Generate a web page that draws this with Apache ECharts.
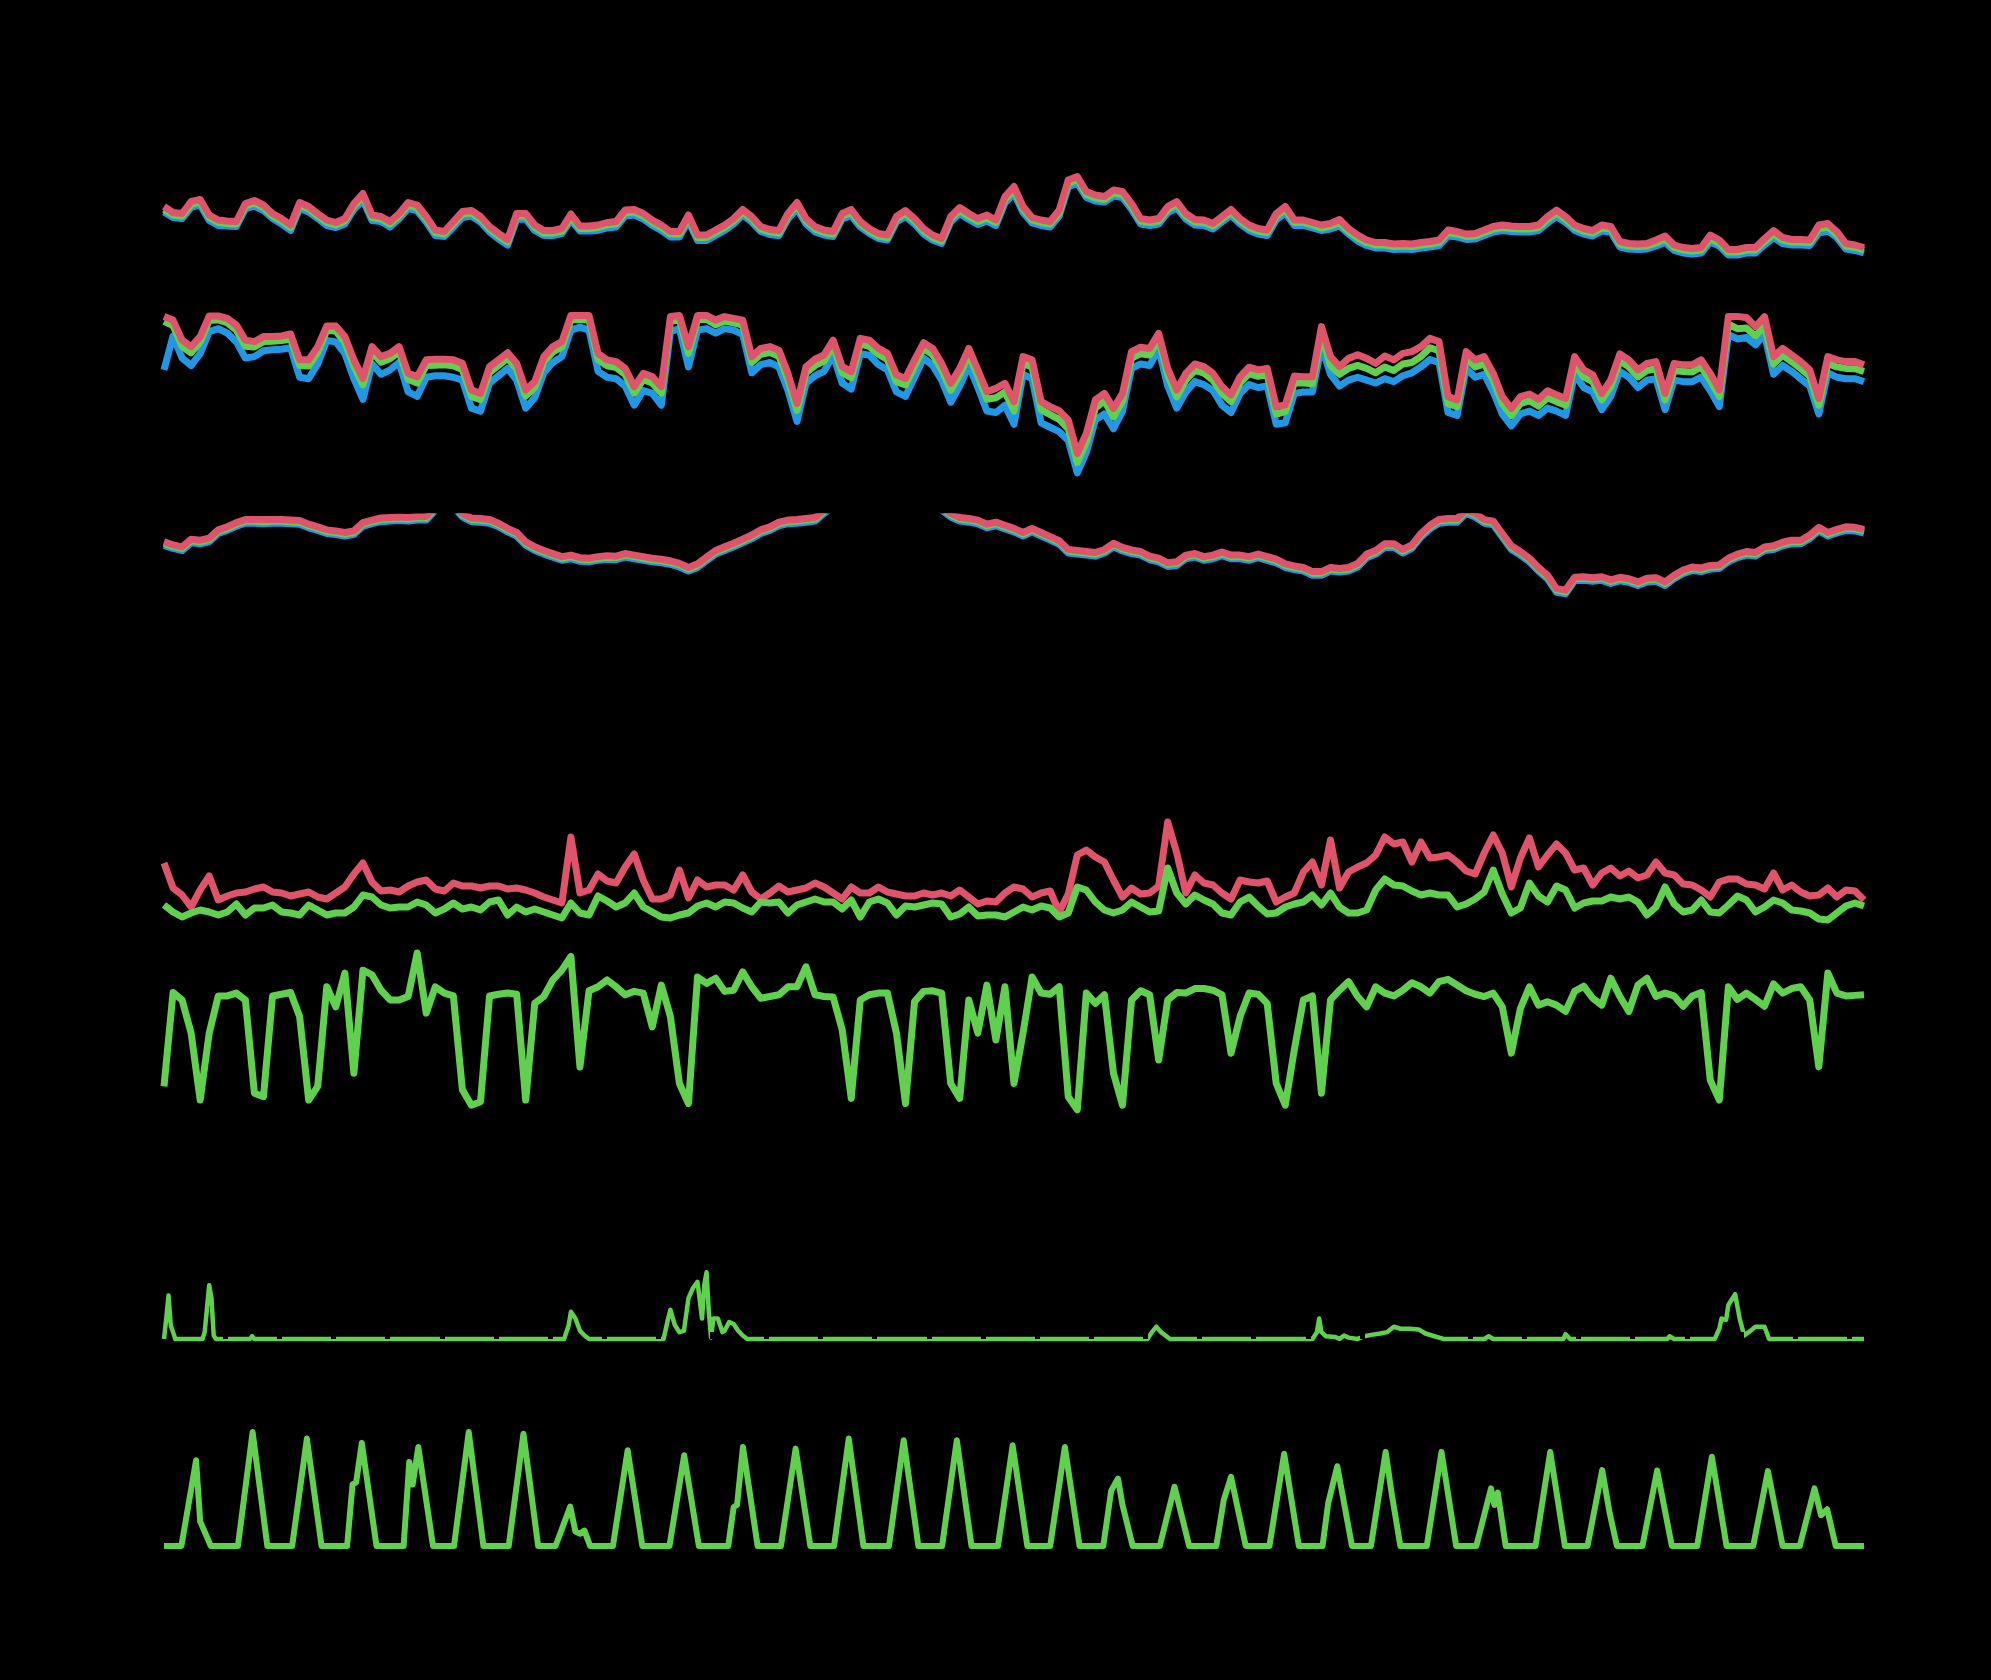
<!DOCTYPE html>
<html><head><meta charset="utf-8">
<script src="https://cdn.jsdelivr.net/npm/echarts@6/dist/echarts.min.js"></script>
<style>html,body{margin:0;padding:0;background:#000;}#c{width:1991px;height:1680px;}</style>
</head><body><div id="c"></div>
<script>
// time step (hours) between samples of the regular series
const STEP_H = 4;
const HOURS_MAX = 752;

// Panel 1: temperature (°C), three sensors
const tempRed = [10.9,9.7,9.5,11.9,12.3,9.2,8.2,8.0,7.9,11.5,12.1,11.2,9.5,8.5,7.2,11.7,10.9,9.5,8.2,7.7,8.5,11.5,13.5,9.2,8.9,7.9,9.5,11.7,11.2,8.9,6.2,5.9,7.9,9.9,10.1,8.9,6.9,5.5,4.3,9.5,9.5,7.2,6.1,6.1,6.5,9.4,7.0,7.0,7.2,7.7,7.9,10.2,10.3,9.5,8.2,7.2,5.9,5.9,9.2,5.2,5.2,6.2,7.2,
8.5,10.3,8.9,6.9,6.3,6.1,9.5,11.7,8.5,6.9,6.2,5.9,9.5,10.3,7.9,6.5,5.5,5.2,8.9,10.1,8.5,6.5,5.2,4.5,8.9,10.7,9.5,8.5,9.2,8.2,12.9,14.9,10.9,8.7,8.2,7.9,10.2,16.2,16.9,13.9,13.2,12.9,14.2,13.9,11.5,8.5,8.2,8.5,10.9,11.9,9.5,8.3,8.2,7.5,8.9,10.3,8.5,7.2,6.5,6.2,9.5,10.9,8.2,
8.2,7.7,7.2,7.5,8.3,6.5,5.2,4.2,3.7,3.7,3.4,3.5,3.4,3.7,3.9,4.2,6.2,5.9,5.4,5.5,6.2,6.9,7.2,7.0,6.9,6.9,7.2,8.9,10.2,8.9,7.2,6.5,6.1,7.2,6.9,3.9,3.5,3.4,3.5,4.2,5.0,3.2,2.7,2.5,2.7,5.2,4.2,2.3,2.3,2.7,2.7,4.5,6.1,4.7,4.3,4.3,4.2,7.2,7.5,5.9,3.5,3.2,2.7];
const tempGreen = [10.3,9.2,9.0,11.3,11.8,8.7,7.7,7.5,7.4,11.0,11.6,10.7,9.0,8.0,6.7,11.1,10.4,9.0,7.7,7.2,8.0,11.0,12.9,8.7,8.4,7.4,9.0,11.2,10.6,8.4,5.7,5.4,7.4,9.4,9.6,8.4,6.4,5.0,3.8,9.0,9.0,6.7,5.6,5.6,6.0,8.8,6.5,6.5,6.7,7.2,7.4,9.6,9.8,9.0,7.7,6.7,5.4,5.4,8.6,4.7,4.7,5.7,6.7,
8.0,9.8,8.4,6.4,5.8,5.6,9.0,11.1,8.0,6.4,5.7,5.4,9.0,9.7,7.4,6.0,5.0,4.7,8.4,9.5,8.0,6.0,4.7,4.0,8.4,10.1,8.9,7.9,8.6,7.7,12.3,14.2,10.3,8.2,7.7,7.4,9.6,15.5,16.3,13.3,12.6,12.3,13.6,13.3,10.9,8.0,7.7,8.0,10.3,11.3,9.0,7.8,7.7,7.0,8.4,9.7,8.0,6.7,6.0,5.7,8.9,10.3,7.7,
7.7,7.2,6.6,7.0,7.6,5.9,4.6,3.7,3.2,3.2,2.9,3.0,2.9,3.2,3.4,3.7,5.7,5.4,4.9,5.0,5.7,6.4,6.7,6.5,6.4,6.4,6.7,8.3,9.6,8.3,6.7,6.0,5.6,6.6,6.4,3.4,3.0,2.9,3.0,3.6,4.4,2.7,2.2,2.0,2.2,4.5,3.6,1.8,1.8,2.2,2.2,3.9,5.4,4.2,3.8,3.8,3.7,6.5,6.8,5.3,3.0,2.7,2.2];
const tempBlue = [9.8,8.7,8.5,10.7,11.2,8.1,7.1,7.0,6.9,10.4,11.0,10.1,8.5,7.4,6.1,10.5,9.8,8.5,7.1,6.7,7.4,10.3,12.2,8.1,7.9,6.8,8.4,10.5,10.0,7.8,5.1,4.9,6.8,8.7,9.0,7.8,5.8,4.4,3.2,8.3,8.4,6.1,5.1,5.1,5.5,8.2,6.0,6.0,6.1,6.6,6.8,9.0,9.2,8.4,7.1,6.1,4.8,4.8,8.0,4.1,4.1,5.1,6.1,
7.4,9.2,7.8,5.9,5.3,5.1,8.4,10.4,7.4,5.8,5.2,4.9,8.4,9.1,6.8,5.5,4.5,4.2,7.8,8.9,7.4,5.4,4.2,3.5,7.8,9.5,8.3,7.3,8.0,7.1,11.6,13.5,9.7,7.6,7.1,6.8,9.0,14.8,15.6,12.7,12.0,11.8,13.0,12.7,10.3,7.4,7.1,7.4,9.7,10.6,8.4,7.2,7.1,6.4,7.8,9.1,7.4,6.1,5.4,5.1,8.2,9.6,7.1,
7.1,6.6,6.1,6.4,7.0,5.4,4.0,3.1,2.6,2.6,2.3,2.4,2.3,2.6,2.8,3.1,5.0,4.8,4.3,4.4,5.1,5.8,6.1,5.9,5.8,5.8,6.1,7.6,8.9,7.7,6.1,5.4,5.0,6.0,5.8,2.8,2.4,2.3,2.4,3.0,3.7,2.1,1.6,1.4,1.6,3.8,3.0,1.2,1.2,1.6,1.6,3.2,4.7,3.5,3.2,3.2,3.1,5.6,6.0,4.7,2.4,2.1,1.6];

// Panel 2: relative humidity (%)
const humRed = [98.1,96.9,90.1,87.9,91.3,98.3,98.3,97.5,95.2,90.1,89.6,91.3,91.3,91.5,92.2,83.4,83.4,87.9,94.9,94.9,91.3,83.4,77.1,87.9,84.5,85.6,87.9,78.8,77.7,83.4,83.6,83.6,83.4,82.2,73.2,72.0,81.1,83.4,85.8,82.2,73.2,76.0,84.5,87.9,89.6,98.5,98.5,98.5,85.6,83.4,82.8,80.5,74.3,78.8,77.7,74.3,98.1,98.5,87.9,98.5,98.5,96.9,98.1,
97.5,96.9,84.5,87.3,87.9,86.7,78.8,68.6,81.1,83.6,85.1,90.1,81.1,79.4,90.7,90.1,87.3,85.6,78.3,77.1,83.4,89.2,87.3,82.2,75.4,80.5,87.3,80.0,72.6,73.7,75.4,69.2,84.5,83.4,69.2,67.5,66.1,63.0,51.6,58.4,69.8,72.0,66.9,72.0,86.2,87.7,87.3,92.4,80.5,73.2,78.8,82.0,81.1,78.8,74.3,71.5,77.7,80.9,80.0,80.5,67.5,68.1,77.9,
77.7,77.7,94.7,84.5,81.1,83.9,85.1,83.9,82.2,84.7,83.4,85.6,86.2,87.9,90.7,89.6,70.9,69.8,86.2,83.4,84.5,78.8,70.9,66.9,70.9,71.8,70.0,72.9,71.5,70.3,84.5,80.0,78.3,72.0,76.6,85.4,83.4,80.0,82.2,82.8,72.0,82.2,81.7,81.7,83.4,78.8,73.2,98.1,98.1,97.8,94.7,98.1,84.5,87.3,85.1,82.8,80.0,70.3,84.5,83.4,82.8,82.8,81.7];
const humGreen = [96.5,95.0,88.0,85.8,89.5,96.8,97.0,96.0,93.5,88.0,87.8,89.6,89.7,90.0,90.5,81.5,81.3,86.0,93.4,93.2,89.3,81.2,74.9,86.0,82.6,83.8,86.1,76.8,75.5,81.5,81.6,81.7,81.4,80.1,71.0,69.9,79.1,81.5,84.0,80.2,71.1,74.0,82.6,86.1,87.8,97.0,97.1,97.0,83.5,81.4,80.8,78.4,72.1,76.7,75.5,72.1,96.5,97.0,85.6,97.0,97.2,95.3,96.6,
96.0,95.2,82.5,85.3,85.9,84.6,76.6,66.2,79.0,81.5,83.0,88.2,79.0,77.3,88.8,88.0,85.3,83.5,76.0,74.9,81.2,87.2,85.2,80.0,73.0,78.3,85.2,77.8,70.0,70.5,72.5,66.0,82.2,81.0,66.5,64.8,63.2,60.0,48.5,55.5,67.0,69.5,64.0,69.5,84.0,85.5,85.0,90.5,78.2,70.8,76.5,79.8,78.9,76.5,72.0,69.2,75.5,78.7,77.8,78.3,65.0,65.8,75.6,
75.5,75.3,92.0,81.5,78.5,80.5,81.5,80.5,79.0,81.0,79.8,82.0,82.5,84.5,87.5,86.5,68.5,67.5,83.8,81.0,82.0,76.5,68.5,64.5,68.5,69.5,67.7,70.5,69.2,68.0,82.0,77.6,76.0,69.8,74.3,83.0,81.0,77.6,79.8,80.4,69.8,79.8,79.4,79.3,81.0,76.4,71.0,95.5,94.0,94.2,91.5,95.0,82.0,85.0,82.8,80.5,77.8,68.0,82.2,81.0,80.5,80.4,79.5];
const humBlue = [80.0,91.5,84.0,81.5,85.5,93.0,94.0,92.5,89.5,84.0,84.5,86.5,86.8,87.0,87.5,77.5,77.0,82.0,90.0,89.5,85.5,77.0,70.0,82.0,78.5,80.0,82.5,72.5,71.0,77.5,78.0,78.0,77.5,76.5,67.0,66.0,75.5,78.0,80.5,76.5,67.0,70.5,79.0,82.5,84.5,93.5,94.5,93.5,79.5,77.5,77.0,74.5,68.0,73.0,72.0,68.0,93.0,94.0,81.0,93.5,94.0,92.5,94.0,
93.5,92.0,79.0,81.8,82.5,81.0,73.0,62.5,75.5,78.0,79.5,85.0,75.5,73.5,85.5,85.0,81.8,80.0,72.5,71.0,77.5,84.0,81.5,76.5,69.0,74.5,81.5,74.0,66.0,65.5,68.0,61.5,78.5,77.0,62.0,60.5,59.0,56.0,45.0,52.0,63.0,65.0,60.0,66.0,80.5,82.0,81.5,87.0,74.5,67.0,72.5,76.0,75.0,73.0,68.0,65.5,72.0,75.0,74.0,74.5,61.5,62.0,72.0,
72.5,72.5,88.0,78.5,74.5,76.5,77.5,76.5,75.5,77.0,76.0,78.0,79.0,81.0,83.5,82.5,65.5,64.5,80.5,77.5,78.5,72.5,65.0,61.0,65.0,66.0,64.5,67.0,66.0,64.5,78.5,74.0,72.5,66.5,71.0,79.5,77.5,74.0,76.5,77.0,66.5,76.5,76.0,76.0,77.5,73.0,67.5,92.0,90.5,91.0,88.5,92.0,78.5,81.5,79.5,77.0,74.5,65.0,79.0,77.5,77.0,77.0,76.0];

// Panel 3: air pressure (hPa)
const presRed = [1025.2,1024.6,1024.2,1025.7,1025.5,1025.9,1027.5,1028.1,1028.9,1029.5,1029.5,1029.5,1029.5,1029.5,1029.4,1029.3,1028.6,1028.1,1027.5,1027.3,1027.0,1027.3,1028.9,1029.4,1029.8,1029.9,1030.0,1029.9,1030.1,1030.1,1032.0,1033.3,1032.7,1030.7,1029.8,1029.7,1029.5,1028.8,1027.8,1027.0,1025.2,1024.2,1023.5,1022.9,1022.3,1022.6,1022.1,1022.0,1022.3,1022.5,1022.4,1022.9,1022.6,1022.3,1022.0,1021.8,1021.5,1021.0,1020.2,1020.9,1022.2,1023.5,1024.2,
1024.9,1025.7,1026.5,1027.5,1028.1,1029.0,1029.4,1029.5,1029.7,1029.9,1031.4,1032.7,1033.9,1034.6,1035.2,1035.6,1035.6,1035.2,1034.9,1034.6,1034.3,1033.9,1033.3,1032.0,1030.7,1029.9,1029.7,1029.4,1028.6,1029.0,1028.4,1027.8,1027.0,1027.8,1027.0,1026.2,1025.4,1023.7,1023.5,1023.3,1023.1,1023.7,1024.9,1024.1,1023.6,1023.3,1022.4,1022.0,1021.1,1021.3,1022.6,1022.9,1022.3,1022.6,1023.2,1022.6,1022.6,1022.3,1022.8,1022.3,1021.8,1020.9,1020.5,
1020.2,1019.4,1019.4,1020.2,1020.0,1020.2,1021.0,1022.8,1023.5,1024.8,1024.8,1023.7,1024.6,1026.8,1028.4,1029.5,1029.7,1029.7,1031.4,1030.7,1029.5,1029.2,1026.8,1024.4,1023.3,1022.0,1020.2,1018.7,1016.1,1015.8,1018.3,1018.4,1018.2,1018.4,1017.8,1018.3,1018.0,1017.4,1018.1,1018.2,1017.4,1018.7,1019.7,1020.3,1020.1,1020.6,1020.7,1022.0,1022.8,1023.3,1023.1,1024.2,1024.4,1025.1,1025.5,1025.5,1026.5,1028.0,1027.0,1027.6,1028.1,1028.0,1027.6];
const presGreen = [1024.9,1024.3,1023.9,1025.4,1025.2,1025.6,1027.2,1027.8,1028.6,1029.2,1029.2,1029.1,1029.2,1029.2,1029.1,1029.0,1028.3,1027.8,1027.2,1027.0,1026.7,1027.0,1028.6,1029.1,1029.5,1029.6,1029.7,1029.6,1029.8,1029.8,1031.7,1033.0,1032.4,1030.4,1029.5,1029.4,1029.2,1028.5,1027.5,1026.7,1024.9,1023.9,1023.2,1022.6,1022.0,1022.3,1021.8,1021.7,1022.0,1022.2,1022.1,1022.6,1022.3,1022.0,1021.7,1021.5,1021.2,1020.7,1019.9,1020.6,1021.9,1023.2,1023.9,
1024.6,1025.4,1026.2,1027.2,1027.8,1028.7,1029.1,1029.2,1029.4,1029.6,1031.1,1032.4,1033.6,1034.3,1034.9,1035.3,1035.3,1034.9,1034.6,1034.3,1034.0,1033.6,1033.0,1031.7,1030.4,1029.6,1029.4,1029.1,1028.3,1028.7,1028.1,1027.5,1026.7,1027.5,1026.7,1025.9,1025.1,1023.4,1023.2,1023.0,1022.8,1023.4,1024.6,1023.8,1023.3,1023.0,1022.1,1021.7,1020.8,1021.0,1022.3,1022.6,1022.0,1022.3,1022.9,1022.3,1022.3,1022.0,1022.5,1022.0,1021.5,1020.6,1020.2,
1019.9,1019.1,1019.1,1019.9,1019.7,1019.9,1020.7,1022.5,1023.2,1024.5,1024.5,1023.4,1024.3,1026.5,1028.1,1029.2,1029.4,1029.4,1031.1,1030.4,1029.2,1028.9,1026.5,1024.1,1023.0,1021.7,1019.9,1018.4,1015.8,1015.5,1018.0,1018.1,1017.9,1018.1,1017.5,1018.0,1017.7,1017.1,1017.8,1017.9,1017.1,1018.4,1019.4,1020.0,1019.8,1020.3,1020.4,1021.7,1022.5,1023.0,1022.8,1023.9,1024.1,1024.8,1025.2,1025.2,1026.2,1027.7,1026.7,1027.3,1027.8,1027.7,1027.3];
const presBlue = [1024.5,1023.9,1023.5,1025.0,1024.8,1025.2,1026.8,1027.4,1028.2,1028.8,1028.8,1028.7,1028.8,1028.8,1028.7,1028.6,1027.9,1027.4,1026.8,1026.6,1026.3,1026.6,1028.2,1028.7,1029.1,1029.2,1029.3,1029.2,1029.4,1029.4,1031.3,1032.6,1032.0,1030.0,1029.1,1029.0,1028.8,1028.1,1027.1,1026.3,1024.5,1023.5,1022.8,1022.2,1021.6,1021.9,1021.4,1021.3,1021.6,1021.8,1021.7,1022.2,1021.9,1021.6,1021.3,1021.1,1020.8,1020.3,1019.5,1020.2,1021.5,1022.8,1023.5,
1024.2,1025.0,1025.8,1026.8,1027.4,1028.3,1028.7,1028.8,1029.0,1029.2,1030.7,1032.0,1033.2,1033.9,1034.5,1034.9,1034.9,1034.5,1034.2,1033.9,1033.6,1033.2,1032.6,1031.3,1030.0,1029.2,1029.0,1028.7,1027.9,1028.3,1027.7,1027.1,1026.3,1027.1,1026.3,1025.5,1024.7,1023.0,1022.8,1022.6,1022.4,1023.0,1024.2,1023.4,1022.9,1022.6,1021.7,1021.3,1020.4,1020.6,1021.9,1022.2,1021.6,1021.9,1022.5,1021.9,1021.9,1021.6,1022.1,1021.6,1021.1,1020.2,1019.8,
1019.5,1018.7,1018.7,1019.5,1019.3,1019.5,1020.3,1022.1,1022.8,1024.1,1024.1,1023.0,1023.9,1026.1,1027.7,1028.8,1029.0,1029.0,1030.7,1030.0,1028.8,1028.5,1026.1,1023.7,1022.6,1021.3,1019.5,1018.0,1015.4,1015.1,1017.6,1017.7,1017.5,1017.7,1017.1,1017.6,1017.3,1016.7,1017.4,1017.5,1016.7,1018.0,1019.0,1019.6,1019.4,1019.9,1020.0,1021.3,1022.1,1022.6,1022.4,1023.5,1023.7,1024.4,1024.8,1024.8,1025.8,1027.3,1026.3,1026.9,1027.4,1027.3,1026.9];

// Panel 4: wind gust (red) and wind speed (green), m/s
const windGust = [6.6,4.1,3.4,2.2,3.9,5.3,2.9,3.3,3.6,3.7,4.0,4.2,3.7,3.6,3.3,3.5,3.7,3.2,3.0,3.6,4.2,5.5,6.6,4.7,3.8,3.9,3.7,4.3,4.7,4.9,4.0,3.8,4.6,4.3,4.3,4.1,4.3,4.3,4.0,4.1,3.9,3.6,3.2,2.9,2.6,9.2,3.6,3.9,5.5,4.8,4.6,6.2,7.5,4.9,3.0,3.0,3.4,5.9,3.1,4.9,4.2,4.4,4.4,
3.9,5.4,3.7,3.0,3.6,4.3,3.7,3.9,4.1,4.6,4.2,3.6,3.0,4.2,3.6,3.6,4.2,3.7,3.5,3.3,3.3,3.6,3.4,3.6,3.3,3.9,3.2,2.5,2.8,2.7,3.6,4.2,4.0,3.2,3.6,3.8,1.7,3.5,7.4,7.9,7.2,6.7,4.9,3.2,4.1,3.5,3.6,4.3,10.7,7.6,3.6,5.4,4.6,4.4,3.6,3.0,4.9,4.7,4.6,4.8,2.7,3.2,3.6,
5.7,6.7,4.4,8.9,4.1,5.7,6.2,6.6,7.4,9.2,8.5,8.7,6.7,8.7,7.1,7.2,7.4,6.7,5.8,5.5,7.6,9.4,7.6,4.2,7.1,9.1,6.2,7.4,8.5,7.6,5.9,6.1,4.4,5.6,6.1,5.3,5.8,5.1,5.4,6.7,5.6,5.4,4.5,4.4,3.9,3.2,4.7,5.0,5.0,4.5,4.4,4.0,5.6,3.9,4.4,3.7,3.3,3.4,4.1,3.2,3.9,3.8,2.9];
const windSpeed = [2.4,1.7,1.2,1.6,1.9,1.7,1.4,1.7,2.5,1.4,2.1,2.1,2.4,1.7,1.6,1.4,2.4,1.9,1.4,1.6,1.6,2.2,3.4,3.2,2.4,2.1,2.2,2.2,2.7,2.4,1.6,2.0,2.6,2.0,2.2,1.9,2.7,2.9,1.4,2.2,1.7,2.0,1.7,1.4,1.1,2.6,1.6,1.4,3.3,2.8,2.2,2.6,3.6,2.2,1.7,1.2,1.1,1.4,1.6,2.3,2.6,2.2,2.7,
2.6,2.1,1.7,2.7,2.6,2.7,1.6,2.4,2.7,3.0,2.7,2.7,2.0,2.9,1.2,2.7,3.0,2.6,1.4,2.3,2.2,2.4,2.6,2.5,1.2,1.5,2.2,1.3,1.4,1.4,1.2,1.7,2.2,1.9,2.3,2.1,1.2,1.6,4.2,3.9,2.7,1.9,1.6,1.9,2.7,2.2,1.7,1.8,6.1,3.6,2.5,3.4,2.9,2.5,1.6,1.4,2.7,3.2,2.3,1.5,1.6,2.2,2.5,
2.7,3.4,2.4,3.6,2.2,1.6,1.6,1.9,3.9,5.0,4.4,4.3,3.8,3.4,3.6,3.4,3.4,2.2,2.5,3.0,3.7,5.9,3.5,1.6,2.1,4.6,3.3,2.7,4.3,3.9,2.1,2.6,2.8,2.8,3.2,3.0,3.2,2.7,1.4,2.2,4.2,2.5,1.7,1.9,2.9,1.7,1.6,2.4,3.3,2.9,1.7,2.2,2.9,2.6,1.9,1.8,1.6,1.0,0.9,1.6,2.3,2.6,2.3];

// Panel 5: wind direction (degrees)
const windDir = [85,249,236,178,61,178,243,243,248,236,73,67,243,246,249,207,61,85,259,224,283,108,288,280,253,236,236,242,318,213,259,248,243,79,52,58,243,246,248,246,61,230,242,271,288,312,119,252,259,271,259,245,251,248,189,262,207,90,55,276,265,274,251,
253,285,259,239,242,245,259,259,294,245,242,241,184,64,236,245,248,248,178,55,233,251,252,248,90,64,236,178,262,166,259,90,178,276,248,246,259,67,44,248,230,245,108,52,236,252,245,131,236,249,248,256,256,253,245,143,207,248,246,230,90,52,149,
236,243,73,236,253,268,242,224,259,248,243,253,266,259,248,268,272,262,252,246,242,248,224,143,221,259,227,233,227,216,251,260,239,227,274,242,216,262,274,242,248,243,225,243,249,96,61,259,237,248,237,225,264,248,256,259,236,119,283,248,243,244,245];

// Panel 6: precipitation (mm), [hour, value]
const precip = [[0,0],[1,0.3],[2,0.64],[3,0.2],[4,0.1],[5,0],[17,0],[18,0.1],[19,0.45],[20,0.79],[21,0.6],[22,0.05],[23,0],[38,0],[39,0.04],[40,0],
[177,0],[179,0.2],[180,0.4],[182,0.3],[184,0.12],[186,0.05],[188,0],
[221,0],[223,0.3],[224,0.43],[226,0.2],[228,0.1],[230,0.12],[232,0.6],[234,0.75],[236,0.84],[238,0.3],[239,0.8],[240,0.98],[241,0.4],[242,0.02],[243,0.3],[245,0.3],[247,0.1],[248,0.12],[250,0.25],[252,0.22],[254,0.12],[256,0.05],[258,0],
[435,0],[437,0.1],[439,0.18],[441,0.1],[443,0.05],[445,0],
[508,0],[510,0.1],[511,0.3],[512,0.1],[514,0.04],[518,0.03],[520,0],[522,0.05],[524,0.02],[528,0],[531,0.04],[534,0.06],[538,0.08],[541,0.1],[544,0.18],[547,0.15],[551,0.15],[555,0.14],[558,0.08],[562,0.04],[566,0],
[584,0],[586,0.04],[588,0],[619,0],[620,0.07],[622,0],[665,0],[666,0.04],[668,0],
[686,0],[688,0.15],[689,0.3],[691,0.28],[692,0.5],[695,0.66],[697,0.3],[699,0.05],[701,0.1],[704,0.18],[708,0.18],[710,0],[752,0]];

// Panel 7: solar radiation (W/m²), [hour, value]
const solar = [[0,0],[7.7,0],[14.2,418],[16,120],[20.7,0],[32.7,0],[39.2,556],[45.7,0],[56.7,0],[63.2,524],[69.7,0],
[81,0],[83.4,300],[85,310],[87.5,503],[94,0],[106,0],[108.5,410],[110,300],[112.5,483],[119,0],
[128.3,0],[134.8,556],[141.3,0],[152.5,0],[159,548],[165.5,0],
[173.2,0],[179.7,192],[182,70],[184,60],[186,75],[188.5,0],
[198.6,0],[205.1,467],[211.6,0],[223.6,0],[230.1,443],[236.6,0],
[249.6,0],[252,190],[253.5,200],[256.1,483],[262.6,0],[272.9,0],[279.4,475],[285.9,0],
[296.4,0],[302.9,524],[309.4,0],[320.7,0],[327.2,516],[333.7,0],[344.2,0],[350.7,516],[357.2,0],
[368.9,0],[375.4,491],[381.9,0],[392,0],[398.5,483],[405,0],
[415.5,0],[419,270],[422,329],[424,200],[428.5,0],[440.5,0],[447,289],[453.5,0],
[465.5,0],[468.8,225],[472,337],[478.5,0],[489,0],[495.5,450],[502,0],
[512.5,0],[515,210],[519,389],[525.5,0],[533.9,0],[540.4,459],[543,260],[546.9,0],
[558.6,0],[565.1,459],[571.6,0],[580.5,0],[587,281],[588.5,200],[590,260],[593.5,0],
[606.7,0],[613.2,459],[619.7,0],[629.7,0],[636.2,370],[639.5,160],[642.7,0],
[654,0],[660.5,368],[667,0],[678.2,0],[684.7,435],[691.2,0],[703,0],[709.5,365],[716,0],
[723.6,0],[730.1,281],[733,150],[735.7,179],[739.5,0],[752,0]];

// midnight positions (hours) marked on the precipitation axis
const dayTicks = [27.1,51.0,75.0,98.9,122.9,146.8,170.7,194.7,218.6,242.6,266.5,290.5,314.4,338.4,362.3,386.2,410.2,434.1,458.1,482.0,506.0,529.9,553.9,577.8,601.8,625.7,649.6,673.6,697.5,721.5,745.4];

const RED = '#DF536B', GREEN = '#61D04F', BLUE = '#2297E6';
const yRanges = [[-10,31.2],[30,100],[990,1030],[0,20.6],[0,360],[-0.03,3],[-5,1000]];

const grids = [], xAxes = [], yAxes = [];
for (let i = 0; i < 7; i++) {
  grids.push({left: 164, top: 105 + 206 * i, width: 1700, height: 206, show: false});
  const xa = {type: 'value', gridIndex: i, min: 0, max: HOURS_MAX, show: false};
  if (i === 5) {
    Object.assign(xa, {show: true, z: 10, axisLine: {show: false}, axisLabel: {show: false}, splitLine: {show: false},
      axisTick: {show: true, inside: true, length: 7, customValues: dayTicks, lineStyle: {color: '#000', width: 5}}});
  }
  xAxes.push(xa);
  yAxes.push({type: 'value', gridIndex: i, min: yRanges[i][0], max: yRanges[i][1], show: false});
}

const reg = arr => arr.map((v, i) => [i * STEP_H, v]);
function line(idx, data, color, width) {
  return {type: 'line', xAxisIndex: idx, yAxisIndex: idx, data: data, showSymbol: false, symbol: 'none',
    lineStyle: {color: color, width: width || 7, join: 'round'}, itemStyle: {color: color}, clip: true, silent: true, animation: false};
}

const series = [
  line(0, reg(tempBlue), BLUE), line(0, reg(tempGreen), GREEN), line(0, reg(tempRed), RED),
  line(1, reg(humBlue), BLUE), line(1, reg(humGreen), GREEN), line(1, reg(humRed), RED),
  line(2, reg(presBlue), BLUE), line(2, reg(presGreen), GREEN), line(2, reg(presRed), RED),
  line(3, reg(windGust), RED), line(3, reg(windSpeed), GREEN),
  line(4, reg(windDir), GREEN),
  line(5, precip, GREEN, 4.5),
  line(6, solar, GREEN, 6)
];

const chart = echarts.init(document.getElementById('c'), null, {renderer: 'canvas', width: 1991, height: 1680});
chart.setOption({backgroundColor: '#000', animation: false, grid: grids, xAxis: xAxes, yAxis: yAxes, series: series});
</script>
</body></html>
